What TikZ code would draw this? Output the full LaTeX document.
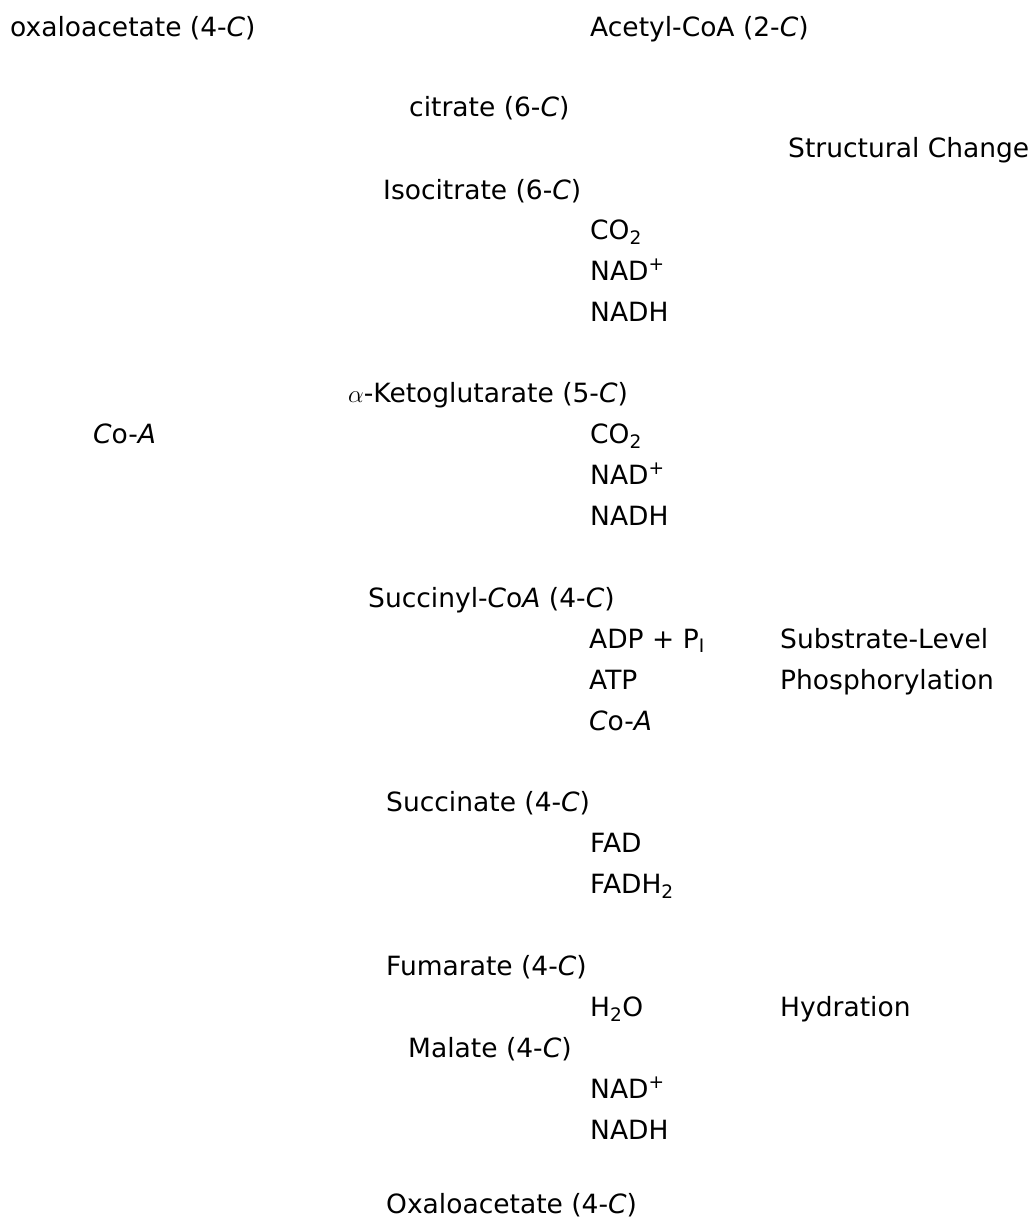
\documentclass[tikz,border=0pt]{standalone}
\usepackage{fontspec}
\setmainfont{DejaVu Sans}
\begin{document}
\begin{tikzpicture}[x=1pt,y=-1pt,
  lbl/.style={anchor=base west,inner sep=0pt,font=\fontsize{26.5}{32}\selectfont}]
\useasboundingbox (0,0) rectangle (1034,1224);
\def\b{9}
\node[lbl] (oaa0) at (10,27+\b) {oxaloacetate (4-\textit{C})};
\node[lbl] (acoa) at (590,27+\b) {Acetyl-CoA (2-\textit{C})};
\node[lbl] (cit) at (409,107+\b) {citrate (6-\textit{C})};
\node[lbl] (sc) at (788,148+\b) {Structural Change};
\node[lbl] (iso) at (383,190+\b) {Isocitrate (6-\textit{C})};
\node[lbl] (co2a) at (590,230+\b) {CO\textsubscript{2}};
\node[lbl] (nada) at (590,271+\b) {NAD\textsuperscript{+}};
\node[lbl] (nadha) at (590,312+\b) {NADH};
\node[lbl] (akg) at (348,393+\b) {$\alpha$-Ketoglutarate (5-\textit{C})};
\node[lbl] (coa1) at (93,434+\b) {\textit{C}o-\textit{A}};
\node[lbl] (co2b) at (590,434+\b) {CO\textsubscript{2}};
\node[lbl] (nadb) at (590,475+\b) {NAD\textsuperscript{+}};
\node[lbl] (nadhb) at (590,516+\b) {NADH};
\node[lbl] (scoa) at (368,598+\b) {Succinyl-\textit{C}o\textit{A} (4-\textit{C})};
\node[lbl] (adp) at (589,639+\b) {ADP + P$_{\mathrm{I}}$};
\node[lbl] (slp1) at (780,639+\b) {Substrate-Level};
\node[lbl] (atp) at (589,680+\b) {ATP};
\node[lbl] (slp2) at (780,680+\b) {Phosphorylation};
\node[lbl] (coa2) at (589,721+\b) {\textit{C}o-\textit{A}};
\node[lbl] (succ) at (386,802+\b) {Succinate (4-\textit{C})};
\node[lbl] (fad) at (590,843+\b) {FAD};
\node[lbl] (fadh) at (590,884+\b) {FADH\textsubscript{2}};
\node[lbl] (fum) at (386,966+\b) {Fumarate (4-\textit{C})};
\node[lbl] (h2o) at (590,1007+\b) {H\textsubscript{2}O};
\node[lbl] (hyd) at (780,1007+\b) {Hydration};
\node[lbl] (mal) at (408,1048+\b) {Malate (4-\textit{C})};
\node[lbl] (nadc) at (590,1089+\b) {NAD\textsuperscript{+}};
\node[lbl] (nadhc) at (590,1130+\b) {NADH};
\node[lbl] (oaa1) at (386,1204+\b) {Oxaloacetate (4-\textit{C})};
\end{tikzpicture}
\end{document}
